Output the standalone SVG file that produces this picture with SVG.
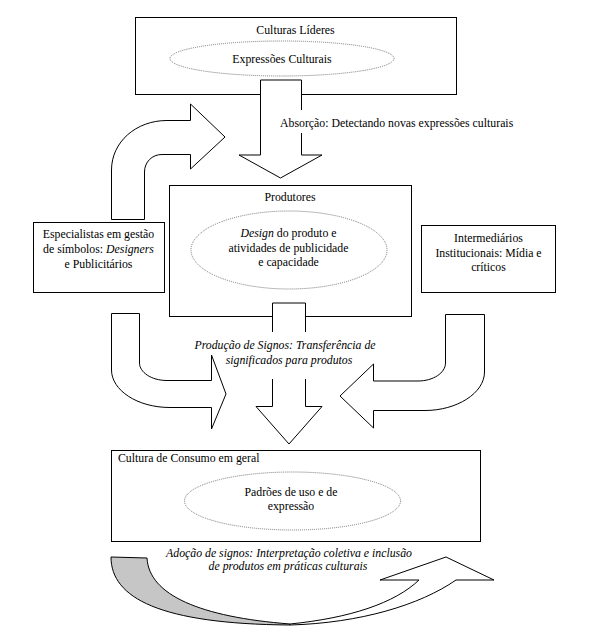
<svg xmlns="http://www.w3.org/2000/svg" width="592" height="638" viewBox="0 0 592 638">
<style>
.box{fill:#fff;stroke:#000;stroke-width:1}
.ell{fill:none;stroke:#777;stroke-width:1;stroke-dasharray:1,1}
.arr{fill:#fff;stroke:#000;stroke-width:1;stroke-linejoin:miter}
.back{fill:#c6c6c6;stroke:#000;stroke-width:1}
text{font-family:"Liberation Serif","Times New Roman",serif;font-size:11.8px;fill:#000}
.c{text-anchor:middle}
.i{font-style:italic}
</style>
<rect width="592" height="638" fill="#fff"/>

<g id="culturas-lideres">
<rect class="box" x="135.5" y="17.5" width="321" height="77"/>
<text class="c" x="295.5" y="33.5">Culturas Líderes</text>
<ellipse class="ell" cx="282" cy="58.5" rx="112" ry="17.5"/>
<text class="c" x="282" y="62.5">Expressões Culturais</text>
</g>

<g id="produtores">
<rect class="box" x="169.5" y="185.5" width="242" height="131"/>
<text class="c" x="290" y="200.5">Produtores</text>
<ellipse class="ell" cx="289" cy="250" rx="98" ry="39"/>
<text class="c" x="288.5" y="236.5"><tspan class="i">Design</tspan> do produto e</text>
<text class="c" x="288.5" y="251.5">atividades de publicidade</text>
<text class="c" x="288.5" y="266">e capacidade</text>
</g>

<g id="especialistas">
<rect class="box" x="33.5" y="222.5" width="131" height="70"/>
<text class="c" x="98.5" y="237.5">Especialistas em gestão</text>
<text class="c" x="98.5" y="252.5">de símbolos: <tspan class="i">Designers</tspan></text>
<text class="c" x="98.5" y="267.5">e Publicitários</text>
</g>

<g id="intermediarios">
<rect class="box" x="421.5" y="225.5" width="134" height="67"/>
<text class="c" x="488.5" y="242">Intermediários</text>
<text class="c" x="488.5" y="256.5">Institucionais: Mídia e</text>
<text class="c" x="488.5" y="271">críticos</text>
</g>

<g id="cultura-consumo">
<rect class="box" x="111.5" y="450.5" width="369" height="91"/>
<text x="118" y="461.5">Cultura de Consumo em geral</text>
<ellipse class="ell" cx="292.5" cy="501" rx="108" ry="29"/>
<text class="c" x="291" y="496">Padrões de uso e de</text>
<text class="c" x="291" y="509.5">expressão</text>
</g>

<g id="connectors">
<path class="arr" d="M260.5,80 L301.5,80 L301.5,155 L322,155 L280.5,178 L239,155 L260.5,155 Z"/>
<path class="arr" d="M111.5,219.5 L111.5,170 C111.5,142 136,120.5 167,120.5 L190.5,120.5 L190.5,104 L225,137 L190.5,169 L190.5,154.5 L162,154.5 C152,154.5 144.5,162 144.5,172 L144.5,219.5 Z"/>
<path class="arr" d="M272.5,303 L305.5,303 L305.5,406.5 L322,406.5 L289,444 L256,406.5 L272.5,406.5 Z"/>
<path class="arr" d="M111.5,313.5 L139.5,313.5 L139.5,363 C139.5,372 151,380.5 167,380.5 L211.5,380.5 L211.5,355 L226,394 L211.5,429 L211.5,407.5 L170,407.5 C137,407.5 111.5,390 111.5,370 Z"/>
<path class="arr" d="M445.5,314.5 L484.5,314.5 L484.5,372 C484.5,393 457,410.5 425,410.5 L373.5,410.5 L373.5,428 L340,396 L373.5,364 L373.5,381 L418,381 C433,381 445.5,373 445.5,363 Z"/>
<path class="back" d="M111,557 L147,558 C149,595 200,617 290,624 L290,625 C160,624 111,598 111,557 Z"/>
<path class="arr" d="M290,625 C360,623 420,605 456,580 L494,580 L446,557 L380,580 L419,580 C395,603 350,618 290,624 Z"/>
</g>

<g id="labels">
<rect x="278" y="110" width="27" height="23" fill="#fff"/>
<text x="280" y="127">Absorção: Detectando novas expressões culturais</text>
<rect x="268" y="332" width="42" height="47" fill="#fff"/>
<text class="c i" x="285" y="349">Produção de Signos: Transferência de</text>
<text class="c i" x="289" y="364">significados para produtos</text>
<text class="c i" x="289" y="557">Adoção de signos: Interpretação coletiva e inclusão</text>
<text class="c i" x="288" y="570">de produtos em práticas culturais</text>
</g>
</svg>
